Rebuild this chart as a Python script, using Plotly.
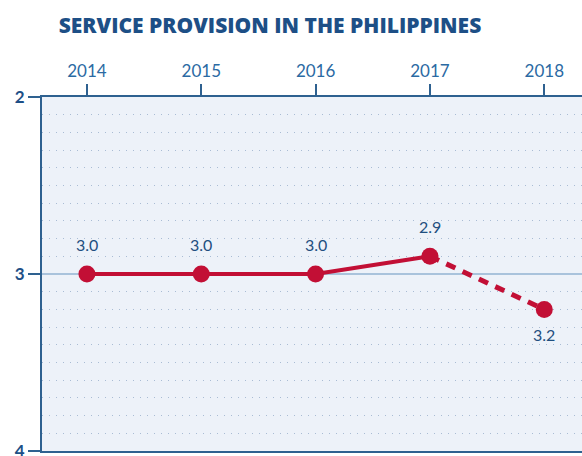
import plotly.graph_objects as go

years = [2014, 2015, 2016, 2017, 2018]
scores = [3.0, 3.0, 3.0, 2.9, 3.2]
labels = ["3.0", "3.0", "3.0", "2.9", "3.2"]
label_side = ["above", "above", "above", "above", "below"]
y_ticks = [2, 3, 4]

RED = "#c20f35"
NAVY = "#1d4f86"
AXIS = "#2e6190"

fig = go.Figure()
# solid segment (observed)
fig.add_trace(go.Scatter(x=years[:4], y=scores[:4], mode="lines",
                         line=dict(color=RED, width=4), hoverinfo="skip"))
# dashed segment (projected)
fig.add_trace(go.Scatter(x=years[3:], y=scores[3:], mode="lines",
                         line=dict(color=RED, width=5, dash="10px,8px"), hoverinfo="skip"))
fig.add_trace(go.Scatter(x=years, y=scores, mode="markers",
                         marker=dict(color=RED, size=17, line=dict(width=0))))

for x, y, t, s in zip(years, scores, labels, label_side):
    fig.add_annotation(x=x, y=y, text=t, showarrow=False,
                       yshift=30 if s == "above" else -25,
                       font=dict(family="Lato", size=16, color="#1f4f7f"))

fig.update_layout(
    width=582, height=456,
    margin=dict(l=42, r=0, t=97, b=5, autoexpand=False),
    paper_bgcolor="white",
    plot_bgcolor="#edf2f9",
    showlegend=False,
    title=dict(text="SERVICE PROVISION IN THE PHILIPPINES",
               x=270 / 582, xanchor="center", y=1 - 26 / 456, yanchor="middle",
               font=dict(family="Open Sans", size=21, color=NAVY, weight=800)),
)
fig.update_xaxes(
    side="top", range=[2013.607, 2018.33], automargin=False,
    tickvals=years, ticktext=[str(y) for y in years],
    ticks="outside", ticklen=11, tickwidth=2, tickcolor=AXIS,
    tickfont=dict(family="Lato", size=17, color="#2b6aa3"),
    showline=True, linecolor=AXIS, linewidth=2, mirror=True,
    showgrid=False, zeroline=False,
)
fig.update_yaxes(
    range=[4, 2], tickvals=y_ticks, ticktext=[str(v) for v in y_ticks],
    automargin=False,
    ticks="outside", ticklen=12, tickwidth=2, tickcolor=AXIS,
    tickfont=dict(family="Lato", size=17, color=NAVY, weight="bold"),
    ticklabeloverflow="allow",
    showline=True, linecolor=AXIS, linewidth=2,
    showgrid=True, gridcolor="#a9c3dc", gridwidth=2,
    zeroline=False,
    minor=dict(dtick=0.1, showgrid=True, gridcolor="#a9bcd4",
               gridwidth=1, griddash="1px,6px", ticks=""),
)

fig.write_html("out.html", config={"displayModeBar": False},
               post_script="document.body.style.margin='0';document.body.style.overflow='hidden';")
